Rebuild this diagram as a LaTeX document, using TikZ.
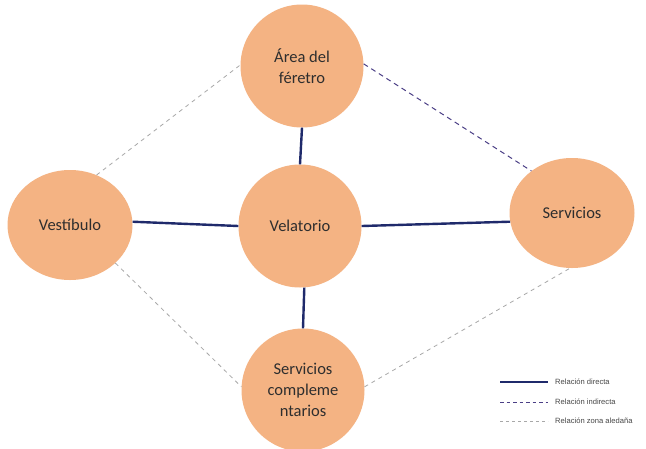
\documentclass[tikz,border=0pt]{standalone}
\usepackage{fontspec}
\usetikzlibrary{shapes.geometric}
\setmainfont{Carlito}
\newfontfamily\legfont{Liberation Sans}
\definecolor{peach}{HTML}{F4B383}
\definecolor{navy}{HTML}{1F2A6B}
\definecolor{indir}{HTML}{4B3F86}
\definecolor{zgray}{HTML}{A8A8A8}
\begin{document}
\begin{tikzpicture}[x=1pt,y=-1pt,
  area/.style={ellipse,fill=peach,inner sep=0pt,align=center,font=\fontsize{16.5}{21}\selectfont,text=black!82},
  round/.style={area,minimum width=123pt,minimum height=123pt},
  flat/.style={area,minimum width=125pt,minimum height=110pt},
  direct/.style={draw=navy,line width=2.4pt},
  indirect/.style={draw=indir,line width=1pt,dash pattern=on 5pt off 4pt},
  zone/.style={draw=zgray,line width=0.8pt,dash pattern=on 4pt off 4pt},
  legtext/.style={anchor=west,font=\legfont\fontsize{7.6}{9}\selectfont,text=black!72,inner sep=0pt}]
\useasboundingbox (0,0) rectangle (646,448);
\fill[white] (0,0) rectangle (646,448);
% circles
\node[round] (fer) at (302,66) {Área del\\féretro};
\node[round] (vel) at (300,226) {Velatorio};
\node[flat] (ves) at (70,225) {Vestíbulo};
\node[flat] (ser) at (572,213) {Servicios};
\node[round] (com) at (303,390) {Servicios\\compleme\\ntarios};
% connectors
\draw[zone] (ves.62) -- (fer.179);
\draw[zone] (ves.-40) -- (com.177);
\draw[zone] (com.3) -- (ser.-92);
\draw[indirect] (fer.2) -- (ser.134);
\draw[direct] (ves.3) -- (vel.west);
\draw[direct] (vel.east) -- (ser.188);
\draw[direct] (fer.south) -- (vel.north);
\draw[direct] (vel.-86) -- (com.north);
% legend
\coordinate (l1a) at (500,382); \coordinate (l1b) at (548,382);
\coordinate (l2a) at (500,402); \coordinate (l2b) at (548,402);
\coordinate (l3a) at (500,421); \coordinate (l3b) at (548,421);
\draw[direct,line width=1.8pt] (l1a) -- (l1b);
\draw[indirect,line width=0.9pt,dash pattern=on 3.5pt off 3pt] (l2a) -- (l2b);
\draw[zone,line width=0.6pt,dash pattern=on 3pt off 3pt] (l3a) -- (l3b);
\node[legtext] (t1) at (555,382) {Relación directa};
\node[legtext] (t2) at (555,402) {Relación indirecta};
\node[legtext] (t3) at (555,421) {Relación zona aledaña};
\end{tikzpicture}
\end{document}
